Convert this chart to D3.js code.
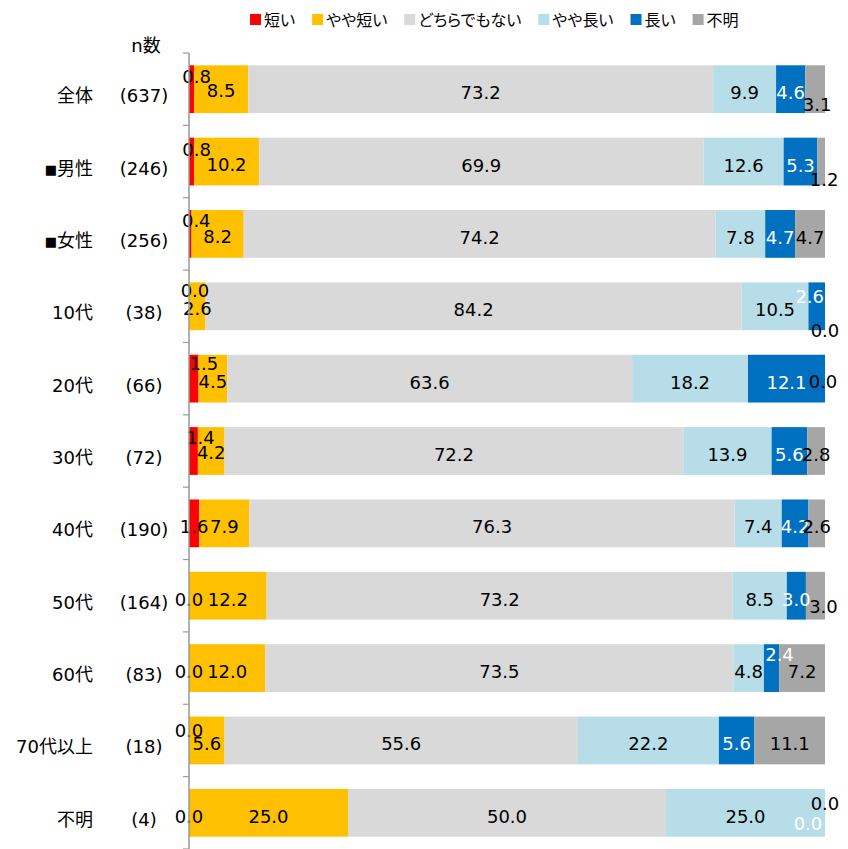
<!DOCTYPE html>
<html>
<head>
<meta charset="utf-8">
<script src="https://cdn.jsdelivr.net/npm/d3@7"></script>
<style>
  body { margin: 0; background: #fff; }
  svg text { font-family: "DejaVu Sans", "Noto Sans CJK JP", sans-serif; font-feature-settings: "palt"; }
</style>
</head>
<body>
<div class="graph"></div>
<script>
// rows (top to bottom)
const categories = ['全体', '■男性', '■女性', '10代', '20代', '30代', '40代', '50代', '60代', '70代以上', '不明'];
const nCounts = ['(637)', '(246)', '(256)', '(38)', '(66)', '(72)', '(190)', '(164)', '(83)', '(18)', '(4)'];

// series
const seriesNames = ['短い', 'やや短い', 'どちらでもない', 'やや長い', '長い', '不明'];
const seriesColors = ['#ff0000', '#ffc000', '#d9d9d9', '#b7dee8', '#0070c0', '#a6a6a6'];

const shortVals         = [0.8, 0.8, 0.4, 0.0, 1.5, 1.4, 1.6, 0.0, 0.0, 0.0, 0.0];
const slightlyShortVals = [8.5, 10.2, 8.2, 2.6, 4.5, 4.2, 7.9, 12.2, 12.0, 5.6, 25.0];
const neutralVals       = [73.2, 69.9, 74.2, 84.2, 63.6, 72.2, 76.3, 73.2, 73.5, 55.6, 50.0];
const slightlyLongVals  = [9.9, 12.6, 7.8, 10.5, 18.2, 13.9, 7.4, 8.5, 4.8, 22.2, 25.0];
const longVals          = [4.6, 5.3, 4.7, 2.6, 12.1, 5.6, 4.2, 3.0, 2.4, 5.6, 0.0];
const unknownVals       = [3.1, 1.2, 4.7, 0.0, 0.0, 2.8, 2.6, 3.0, 7.2, 11.1, 0.0];

const seriesValues = [shortVals, slightlyShortVals, neutralVals, slightlyLongVals, longVals, unknownVals];

// manual nudges for crowded labels: [row, series, dx, dy]
const labelNudges = [
    [0, 0, 5, -16], [0, 1, 0, -2], [0, 5, 2, 12],
    [1, 0, 5, -16], [1, 1, 0, -1], [1, 5, 3, 14],
    [2, 0, 6, -17], [2, 1, 0, -1],
    [3, 0, 6, -19], [3, 1, 0, -1], [3, 4, -7, -13], [3, 5, 0, 21],
    [4, 0, 10, -19], [4, 1, 0, -1], [4, 5, -2, -1],
    [5, 0, 7, -17], [5, 1, 0, -2],
    [7, 5, 8, 7],
    [8, 4, 8, -17],
    [9, 0, 0, -13],
    [10, 4, -17, 7], [10, 5, 0, -13]
];

const width = 848, height = 849;
const margin = { top: 53, right: 23, bottom: 0, left: 189 };

const svg = d3.select('.graph').append('svg')
    .attr('width', width)
    .attr('height', height);

const rows = categories.map((c, i) => {
    const r = { cat: c, idx: i };
    seriesNames.forEach((s, j) => { r[s] = seriesValues[j][i]; });
    return r;
});

const stack = d3.stack().keys(seriesNames).offset(d3.stackOffsetExpand);
const layers = stack(rows);

const x = d3.scaleLinear().domain([0, 1]).range([margin.left, width - margin.right]);
const y = d3.scaleBand().domain(categories)
    .range([margin.top, height - margin.bottom])
    .paddingInner(0.34).paddingOuter(0.17);

// bars
const g = svg.append('g');
g.selectAll('g.layer')
    .data(layers)
    .enter().append('g')
    .attr('fill', (d, i) => seriesColors[i])
    .selectAll('rect')
    .data(d => d)
    .enter().append('rect')
    .attr('x', d => x(d[0]))
    .attr('width', d => x(d[1]) - x(d[0]))
    .attr('y', d => y(d.data.cat))
    .attr('height', y.bandwidth());

// axis line with ticks between bands
const bounds = categories.map(c => y(c) - y.step() * y.paddingInner() / 2);
bounds[0] = margin.top;
bounds.push(height - margin.bottom);
svg.append('line')
    .attr('x1', margin.left).attr('x2', margin.left)
    .attr('y1', margin.top).attr('y2', height)
    .attr('stroke', '#999').attr('stroke-width', 1.5);
svg.selectAll('line.tick')
    .data(bounds)
    .enter().append('line')
    .attr('class', 'tick')
    .attr('x1', margin.left - 6).attr('x2', margin.left)
    .attr('y1', d => d).attr('y2', d => d)
    .attr('stroke', '#999').attr('stroke-width', 1.2);

// value labels
const nudge = {};
labelNudges.forEach(n => { nudge[n[0] + ',' + n[1]] = [n[2], n[3]]; });

layers.forEach((layer, si) => {
    g.selectAll('text.v' + si)
        .data(layer)
        .enter().append('text')
        .attr('class', 'v' + si)
        .attr('x', d => (x(d[0]) + x(d[1])) / 2 + (nudge[d.data.idx + ',' + si] || [0, 0])[0])
        .attr('y', d => y(d.data.cat) + y.bandwidth() / 2 + 10 + (nudge[d.data.idx + ',' + si] || [0, 0])[1])
        .attr('text-anchor', 'middle')
        .attr('font-size', 18)
        .attr('fill', si === 4 ? '#fff' : '#000')
        .text(d => seriesValues[si][d.data.idx].toFixed(1));
});

// row labels (the ■ marker is drawn smaller)
const catText = svg.selectAll('text.cat')
    .data(categories)
    .enter().append('text')
    .attr('x', 93)
    .attr('y', d => y(d) + y.bandwidth() / 2 + 13)
    .attr('text-anchor', 'end')
    .attr('font-size', 18)
    .attr('fill', '#000');
catText.each(function (d) {
    const t = d3.select(this);
    if (d.startsWith('■')) {
        t.append('tspan').attr('font-size', 13).attr('dy', -1).text('■');
        t.append('tspan').attr('dy', 1).text(d.slice(1));
    } else {
        t.text(d);
    }
});

svg.selectAll('text.n')
    .data(nCounts)
    .enter().append('text')
    .attr('x', 144)
    .attr('y', (d, i) => y(categories[i]) + y.bandwidth() / 2 + 13)
    .attr('text-anchor', 'middle')
    .attr('font-size', 18)
    .attr('fill', '#000')
    .text(d => d);

svg.append('text')
    .attr('x', 146).attr('y', 52)
    .attr('text-anchor', 'middle')
    .attr('font-size', 18)
    .text('n数');

// legend
const legend = svg.append('g').attr('transform', 'translate(250,20)');
let lx = 0;
seriesNames.forEach((s, i) => {
    const item = legend.append('g').attr('transform', `translate(${lx},0)`);
    item.append('rect')
        .attr('x', 0).attr('y', -6)
        .attr('width', 11).attr('height', 11)
        .attr('fill', seriesColors[i]);
    const t = item.append('text')
        .attr('x', 14).attr('y', 6)
        .attr('font-size', 16)
        .attr('fill', '#000')
        .text(s);
    lx += 14 + t.node().getComputedTextLength() + 17;
});
</script>
</body>
</html>
